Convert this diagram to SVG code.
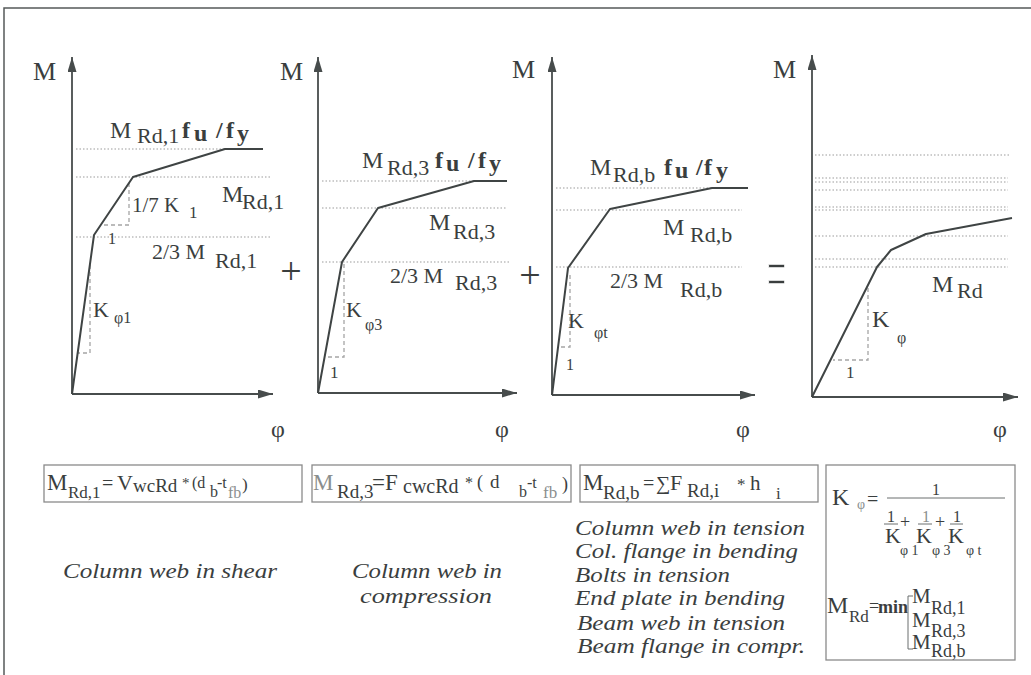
<svg xmlns="http://www.w3.org/2000/svg" width="1031" height="675" viewBox="0 0 1031 675" font-family="'Liberation Serif', 'Times New Roman', 'DejaVu Serif', serif">
<defs>
<marker id="arr" markerUnits="userSpaceOnUse" markerWidth="16" markerHeight="10" refX="15" refY="4.5" orient="auto">
<path d="M0,0 L15,4.5 L0,9 z" fill="#474c4c"/>
</marker>
<style>
text{font-family:'Liberation Serif','Times New Roman','DejaVu Serif',serif}
.t{fill:#3a3e3e}
.it{font-style:italic}
.b{font-weight:bold}
.g{fill:#8a8e8e}
.ax{stroke:#474c4c;stroke-width:1.8;fill:none}
.cv{stroke:#3f4444;stroke-width:2;fill:none;stroke-linejoin:round}
.dot{stroke:#bdbdbd;stroke-width:1.5;stroke-dasharray:1.5 2;fill:none}
.dash{stroke:#a5a5a5;stroke-width:1.3;stroke-dasharray:4 3;fill:none}
.box{fill:none;stroke:#8a8a8a;stroke-width:1.3}
.fr{fill:none;stroke:#555a5a;stroke-width:1.5}
.ln{stroke:#6a6e6e;stroke-width:1;fill:none}
</style>
</defs>
<rect width="1031" height="675" fill="#ffffff"/>
<g id="frame"><path class="fr" d="M4,675 V8 H1031"/></g>

<g id="connectors">
<path class="ax" d="M72,394 V57" marker-end="url(#arr)"/>
<path class="ax" d="M72,394 H273" marker-end="url(#arr)"/>
<path class="ax" d="M318,393 V57" marker-end="url(#arr)"/>
<path class="ax" d="M318,393 H517" marker-end="url(#arr)"/>
<path class="ax" d="M552,395 V57" marker-end="url(#arr)"/>
<path class="ax" d="M552,395 H755" marker-end="url(#arr)"/>
<path class="ax" d="M812,397 V55" marker-end="url(#arr)"/>
<path class="ax" d="M812,397 H1018" marker-end="url(#arr)"/>
</g>

<g id="graph1">
<path class="dot" d="M76,149H225 M76,177H270 M76,237H270"/>
<path class="dash" d="M129,183V225H101 M90,265V353H78"/>
<path class="cv" d="M72,394 L94,235 L133,177 L225,149 L263,149"/>
<text class="t" font-size="26" x="33" y="80">M</text>
<text class="t" font-size="24"><tspan x="110" y="138">M</tspan><tspan x="137" y="143" font-size="22">Rd,1</tspan><tspan class="b" x="182" y="138">f</tspan><tspan class="b" x="194" y="141">u</tspan><tspan class="b" x="216" y="138">/</tspan><tspan class="b" x="226" y="138">f</tspan><tspan class="b" x="237" y="141">y</tspan></text>
<text class="t" font-size="21" x="132" y="212">1/7 K</text>
<text class="t" font-size="17" x="189" y="218">1</text>
<text class="t" font-size="16" x="108" y="244">1</text>
<text class="t" font-size="24" x="222" y="202">M</text>
<text class="t" font-size="22" x="242" y="209">Rd,1</text>
<text class="t" font-size="22" x="152" y="259">2/3 M</text>
<text class="t" font-size="22" x="215" y="268">Rd,1</text>
<text class="t" font-size="22" x="93" y="317">K</text>
<text class="t" font-size="16" x="114" y="323">φ1</text>
<text class="t" font-size="24" x="278" y="437" text-anchor="middle">φ</text>
</g>

<g id="op1"><text class="t" font-size="38" x="291" y="284" text-anchor="middle">+</text></g>

<g id="graph2">
<path class="dot" d="M322,181H474 M322,208H506 M322,262H510"/>
<path class="dash" d="M344,264V357H325"/>
<path class="cv" d="M318,393 L342,262 L378,208 L474,181 L507,181"/>
<text class="t" font-size="26" x="280" y="80">M</text>
<text class="t" font-size="24"><tspan x="362" y="168">M</tspan><tspan x="387" y="175" font-size="22">Rd,3</tspan><tspan class="b" x="435" y="168">f</tspan><tspan class="b" x="446" y="171">u</tspan><tspan class="b" x="468" y="168">/</tspan><tspan class="b" x="478" y="168">f</tspan><tspan class="b" x="489" y="171">y</tspan></text>
<text class="t" font-size="24" x="429" y="230">M</text>
<text class="t" font-size="22" x="453" y="239">Rd,3</text>
<text class="t" font-size="22" x="390" y="283">2/3 M</text>
<text class="t" font-size="22" x="455" y="290">Rd,3</text>
<text class="t" font-size="22" x="346" y="317">K</text>
<text class="t" font-size="16" x="365" y="330">φ3</text>
<text class="t" font-size="17" x="330" y="378">1</text>
<text class="t" font-size="24" x="502" y="437" text-anchor="middle">φ</text>
</g>

<g id="op2"><text class="t" font-size="38" x="530" y="288" text-anchor="middle">+</text></g>

<g id="graph3">
<path class="dot" d="M556,188H712 M556,210H742 M556,267H742"/>
<path class="dash" d="M570,275V347H561"/>
<path class="cv" d="M552,395 L568,268 L610,209 L712,188 L748,188"/>
<text class="t" font-size="26" x="512" y="78">M</text>
<text class="t" font-size="24"><tspan x="590" y="175">M</tspan><tspan x="613" y="182" font-size="22">Rd,b</tspan><tspan class="b" x="664" y="175">f</tspan><tspan class="b" x="675" y="178">u</tspan><tspan class="b" x="696" y="175">/</tspan><tspan class="b" x="704" y="175">f</tspan><tspan class="b" x="716" y="178">y</tspan></text>
<text class="t" font-size="24" x="663" y="235">M</text>
<text class="t" font-size="22" x="690" y="242">Rd,b</text>
<text class="t" font-size="22" x="610" y="288">2/3 M</text>
<text class="t" font-size="22" x="680" y="297">Rd,b</text>
<text class="t" font-size="22" x="568" y="328">K</text>
<text class="t" font-size="16" x="594" y="338">φt</text>
<text class="t" font-size="16" x="566" y="370">1</text>
<text class="t" font-size="24" x="743" y="437" text-anchor="middle">φ</text>
</g>

<g id="op3"><text class="t" font-size="36" stroke="#ffffff" stroke-width="0.7" transform="translate(767,300) scale(0.95,2.2)">=</text></g>

<g id="graph4">
<path class="dot" d="M815,155H1010 M815,178H1008 M815,182H1008 M815,190H1008 M815,207H1008 M815,210H1008 M815,236H1008 M815,259H1008 M815,267H1008"/>
<path class="dash" d="M868,288V360H833"/>
<path class="cv" d="M812,397 L877,267 L891,250 L926,234 L1012,218"/>
<text class="t" font-size="26" x="773" y="78">M</text>
<text class="t" font-size="24" x="872" y="327">K</text>
<text class="t" font-size="16" x="897" y="343">φ</text>
<text class="t" font-size="17" x="846" y="378">1</text>
<text class="t" font-size="24" x="932" y="292">M</text>
<text class="t" font-size="22" x="957" y="298">Rd</text>
<text class="t" font-size="24" x="1000" y="437" text-anchor="middle">φ</text>
</g>

<g id="formula1">
<rect class="box" x="44" y="465" width="258" height="37"/>
<text class="t"><tspan x="47" y="490" font-size="23">M</tspan><tspan x="68" y="498" font-size="17">Rd,1</tspan><tspan x="102" y="490" font-size="20">=</tspan><tspan x="117" y="490" font-size="22">V</tspan><tspan x="133" y="492" font-size="19">wcRd</tspan><tspan x="182" y="488" font-size="15">*</tspan><tspan x="192" y="488" font-size="16">(d</tspan><tspan x="210" y="497" font-size="16">b</tspan><tspan x="217" y="488" font-size="16">-t</tspan><tspan class="g" x="228" y="498" font-size="16">fb</tspan><tspan x="242" y="490" font-size="17">)</tspan></text>
</g>

<g id="formula2">
<rect class="box" x="312" y="465" width="259" height="37"/>
<text class="t"><tspan class="g" x="313" y="490" font-size="23">M</tspan><tspan x="337" y="498" font-size="19">Rd,3</tspan><tspan x="372" y="490" font-size="23">=F</tspan><tspan x="403" y="493" font-size="20">cwcRd</tspan><tspan x="465" y="488" font-size="16">*</tspan><tspan x="477" y="488" font-size="18">(</tspan><tspan x="490" y="488" font-size="19">d</tspan><tspan x="519" y="497" font-size="16">b</tspan><tspan x="527" y="488" font-size="16">-t</tspan><tspan class="g" x="543" y="498" font-size="17">fb</tspan><tspan x="562" y="490" font-size="18">)</tspan></text>
</g>

<g id="formula3">
<rect class="box" x="580" y="465" width="238" height="37"/>
<text class="t"><tspan x="583" y="490" font-size="23">M</tspan><tspan x="603" y="499" font-size="19">Rd,b</tspan><tspan x="643" y="490" font-size="20">=</tspan><tspan x="656" y="490" font-size="20">∑</tspan><tspan x="670" y="490" font-size="22">F</tspan><tspan x="687" y="497" font-size="19">Rd,i</tspan><tspan x="737" y="490" font-size="17">*</tspan><tspan x="750" y="490" font-size="21">h</tspan><tspan x="776" y="499" font-size="17">i</tspan></text>
</g>

<g id="formula4">
<rect class="box" x="826" y="465" width="189" height="195"/>
<text class="t" font-size="24" x="832" y="505">K</text>
<text class="t g" font-size="14" x="857" y="509">φ</text>
<text class="t" font-size="20" x="867" y="506">=</text>
<path class="ln" d="M887,498H1005"/>
<text class="t" font-size="16" x="932" y="495">1</text>
<path class="ln" d="M884,524H898 M918,524H932 M950,524H963"/>
<text class="t" font-size="16" x="887" y="522">1</text>
<text class="t g" font-size="16" x="922" y="522">1</text>
<text class="t" font-size="16" x="953" y="522">1</text>
<text class="t" font-size="22" x="885" y="543">K</text>
<text class="t" font-size="14" x="900" y="555">φ 1</text>
<text class="t" font-size="18" x="900" y="528">+</text>
<text class="t" font-size="22" x="916" y="543">K</text>
<text class="t" font-size="14" x="932" y="555">φ 3</text>
<text class="t" font-size="18" x="935" y="528">+</text>
<text class="t" font-size="22" x="948" y="543">K</text>
<text class="t" font-size="14" x="966" y="555">φ t</text>
<text class="t" font-size="24" x="827" y="613">M</text>
<text class="t" font-size="17" x="849" y="622">Rd</text>
<text class="t" font-size="18" x="869" y="612">=</text>
<text class="t b" font-size="18" x="878" y="613">min</text>
<path class="ln" d="M913,596H908V649H913"/>
<text class="t" font-size="21" x="912" y="603">M</text>
<text class="t" font-size="18" x="931" y="614">Rd,1</text>
<text class="t" font-size="21" x="912" y="627">M</text>
<text class="t" font-size="18" x="931" y="637">Rd,3</text>
<text class="t" font-size="21" x="912" y="649">M</text>
<text class="t" font-size="18" x="931" y="657">Rd,b</text>
</g>

<g id="desc1"><text class="t it" font-size="22" x="63" y="578" textLength="214" lengthAdjust="spacingAndGlyphs">Column web in shear</text></g>
<g id="desc2">
<text class="t it" font-size="22" x="352" y="578" textLength="150" lengthAdjust="spacingAndGlyphs">Column web in</text>
<text class="t it" font-size="22" x="360" y="603" textLength="132" lengthAdjust="spacingAndGlyphs">compression</text>
</g>
<g id="desc3">
<text class="t it" font-size="22" x="575" y="535" textLength="230" lengthAdjust="spacingAndGlyphs">Column web in tension</text>
<text class="t it" font-size="22" x="575" y="558" textLength="223" lengthAdjust="spacingAndGlyphs">Col. flange in bending</text>
<text class="t it" font-size="22" x="575" y="582" textLength="155" lengthAdjust="spacingAndGlyphs">Bolts in tension</text>
<text class="t it" font-size="22" x="575" y="605" textLength="210" lengthAdjust="spacingAndGlyphs">End plate in bending</text>
<text class="t it" font-size="22" x="577" y="630" textLength="208" lengthAdjust="spacingAndGlyphs">Beam web in tension</text>
<text class="t it" font-size="22" x="577" y="653" textLength="228" lengthAdjust="spacingAndGlyphs">Beam flange in compr.</text>
</g>
</svg>
